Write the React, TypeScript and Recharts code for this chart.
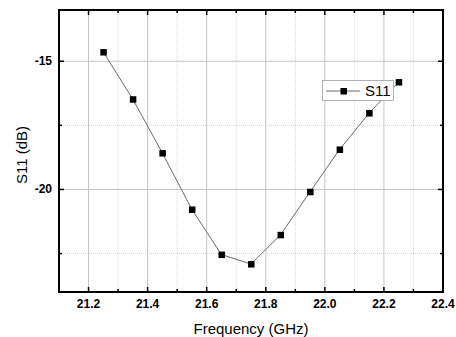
import React from "react";
import { LineChart, Line, XAxis, YAxis, ReferenceLine } from "recharts";

const freq = [21.25, 21.35, 21.45, 21.55, 21.65, 21.75, 21.85, 21.95, 22.05, 22.15, 22.25];
const s11 = [-14.64, -16.48, -18.58, -20.78, -22.54, -22.91, -21.77, -20.09, -18.44, -17.02, -15.81];

const xDomain = [21.1, 22.4];
const yDomain = [-24, -13];
const xTicks = [21.1, 21.2, 21.3, 21.4, 21.5, 21.6, 21.7, 21.8, 21.9, 22.0, 22.1, 22.2, 22.3, 22.4];
const xMajorGrid = [21.2, 21.4, 21.6, 21.8, 22.0, 22.2];
const xMinorGrid = [21.3, 21.5, 21.7, 21.9, 22.1, 22.3];
const yTicks = [-22.5, -20, -17.5, -15];
const yMajorGrid = [-20, -15];
const yMinorGrid = [-22.5, -17.5];

const data = freq.map((f, i) => ({ f, s11: s11[i] }));

const FONT = "'Liberation Sans', Arial, sans-serif";

const isMajorX = (v: number) => Math.round(v * 10) % 2 === 0;
const isMajorY = (v: number) => Math.round(v * 10) % 50 === 0;

const BottomTick = (props: any) => {
  const { x, y, payload } = props;
  const v = payload.value;
  const major = isMajorX(v);
  return (
    <g>
      <line x1={x} x2={x} y1={y} y2={y - (major ? 5 : 3)} stroke="#000" strokeWidth={1.5} />
      {major && (
        <text x={x} y={y + 16} textAnchor="middle" fontSize={12} fontWeight="bold" fill="#000" fontFamily={FONT}>
          {v.toFixed(1)}
        </text>
      )}
    </g>
  );
};

const LeftTick = (props: any) => {
  const { x, y, payload } = props;
  const v = payload.value;
  const major = isMajorY(v);
  return (
    <g>
      <line x1={x} x2={x + (major ? 5 : 3)} y1={y} y2={y} stroke="#000" strokeWidth={1.5} />
      {major && (
        <text x={x - 7} y={y + 4} textAnchor="end" fontSize={12} fontWeight="bold" fill="#000" fontFamily={FONT}>
          {v}
        </text>
      )}
    </g>
  );
};

// gridline + small inward tick on the top frame
const drawV = (p: any, major: boolean) => {
  const top = Math.min(p.y1, p.y2);
  const bottom = Math.max(p.y1, p.y2);
  return (
    <g>
      <line
        x1={p.x1}
        x2={p.x1}
        y1={top}
        y2={bottom}
        stroke={major ? "#c4c4c4" : "#d4d4d4"}
        strokeDasharray={major ? undefined : "1 1"}
      />
      <line x1={p.x1} x2={p.x1} y1={top} y2={top + (major ? 5 : 3)} stroke="#000" strokeWidth={1.5} />
    </g>
  );
};

// gridline + small inward tick on the right frame
const drawH = (p: any, major: boolean) => {
  const left = Math.min(p.x1, p.x2);
  const right = Math.max(p.x1, p.x2);
  return (
    <g>
      <line
        x1={left}
        x2={right}
        y1={p.y1}
        y2={p.y1}
        stroke={major ? "#c4c4c4" : "#d4d4d4"}
        strokeDasharray={major ? undefined : "1 1"}
      />
      <line x1={right} x2={right - (major ? 5 : 3)} y1={p.y1} y2={p.y1} stroke="#000" strokeWidth={1.5} />
    </g>
  );
};

const vMajor = (p: any) => drawV(p, true);
const vMinor = (p: any) => drawV(p, false);
const hMajor = (p: any) => drawH(p, true);
const hMinor = (p: any) => drawH(p, false);

const Square = (props: any) => {
  const { cx, cy, index } = props;
  return <rect key={index} x={cx - 3} y={cy - 3} width={6.5} height={6.5} fill="#000" />;
};

const bottomTick = <BottomTick />;
const leftTick = <LeftTick />;
const squareDot = <Square />;
const axisLine = { stroke: "#000", strokeWidth: 2 };

export default function App() {
  return (
    <div style={{ position: "absolute", left: 0, top: 0, width: 456, height: 337, background: "#fff", fontFamily: FONT }}>
      <LineChart width={456} height={337} data={data} margin={{ top: 10, right: 13, bottom: 0, left: 0 }}>
        <XAxis
          dataKey="f"
          type="number"
          domain={xDomain}
          ticks={xTicks}
          interval={0}
          height={45}
          tickSize={0}
          tickMargin={0}
          tick={bottomTick}
          axisLine={axisLine}
          allowDataOverflow
        />
        <YAxis
          type="number"
          domain={yDomain}
          ticks={yTicks}
          interval={0}
          width={59}
          tickSize={0}
          tickMargin={0}
          tick={leftTick}
          axisLine={axisLine}
          allowDataOverflow
        />
        {xMinorGrid.map((v) => (
          <ReferenceLine key={"xm" + v} x={v} shape={vMinor} />
        ))}
        {xMajorGrid.map((v) => (
          <ReferenceLine key={"xM" + v} x={v} shape={vMajor} />
        ))}
        {yMinorGrid.map((v) => (
          <ReferenceLine key={"ym" + v} y={v} shape={hMinor} />
        ))}
        {yMajorGrid.map((v) => (
          <ReferenceLine key={"yM" + v} y={v} shape={hMajor} />
        ))}
        <ReferenceLine y={yDomain[1]} stroke="#000" strokeWidth={2} />
        <ReferenceLine x={xDomain[1]} stroke="#000" strokeWidth={2} />
        <Line
          dataKey="s11"
          stroke="#6a6a6a"
          strokeWidth={1}
          dot={squareDot}
          activeDot={false}
          isAnimationActive={false}
        />
      </LineChart>
      {/* plot frame */}
      <div
        style={{
          position: "absolute",
          left: 58,
          top: 9,
          width: 386,
          height: 284,
          boxSizing: "border-box",
          border: "2px solid #000",
          pointerEvents: "none",
        }}
      />
      <div
        style={{
          position: "absolute",
          left: 15,
          top: 155,
          transform: "translate(-50%, -50%) rotate(-90deg)",
          fontSize: 15,
          whiteSpace: "nowrap",
          color: "#000",
          marginLeft: 6,
        }}
      >
        S11 (dB)
      </div>
      <div
        style={{
          position: "absolute",
          left: 251,
          top: 320,
          transform: "translateX(-50%)",
          fontSize: 15,
          whiteSpace: "nowrap",
          color: "#000",
        }}
      >
        Frequency (GHz)
      </div>
      <div
        style={{
          position: "absolute",
          left: 322,
          top: 80,
          width: 72,
          height: 21,
          boxSizing: "border-box",
          border: "1px solid #b0b0b0",
          background: "#fff",
          display: "flex",
          alignItems: "center",
        }}
      >
        <svg width={40} height={20} style={{ display: "block" }}>
          <line x1={3} x2={37} y1={10} y2={10} stroke="#6a6a6a" strokeWidth={1} />
          <rect x={17.5} y={7} width={6.5} height={6.5} fill="#000" />
        </svg>
        <span style={{ fontSize: 15, color: "#000", marginLeft: 2, lineHeight: "20px" }}>S11</span>
      </div>
    </div>
  );
}
